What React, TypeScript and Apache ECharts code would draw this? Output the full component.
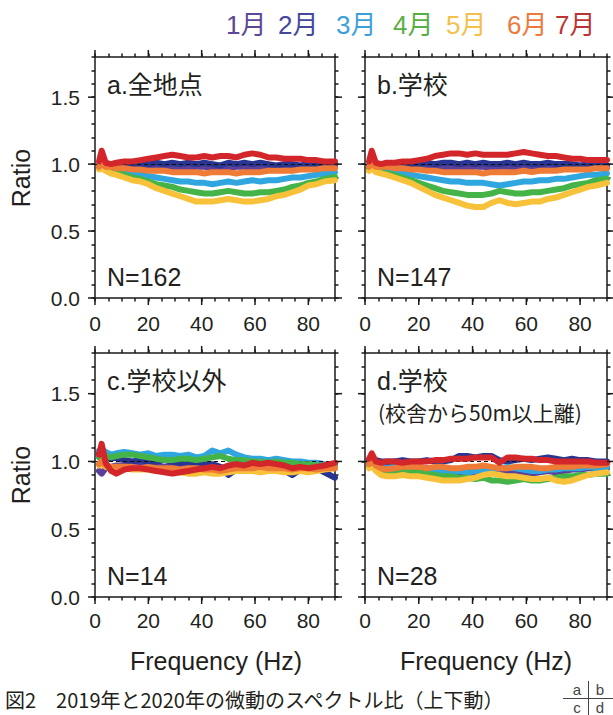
import React, { useEffect, useRef } from 'react';
import * as echarts from 'echarts';

// Frequency samples (Hz)
const FREQ = [1.5, 2.5, 4, 6, 8, 11, 14, 17, 20, 23, 26, 29, 32, 35, 38, 41, 44, 47, 50, 53, 56, 59, 62, 65, 68, 71, 74, 77, 80, 83, 86, 90];

const MONTHS = ['1月', '2月', '3月', '4月', '5月', '6月', '7月'];
const LINE_COLORS = ['#5b3f98', '#283593', '#2fa6df', '#45b448', '#f7c23a', '#ee7b36', '#d2262b'];
const LEGEND_COLORS = ['#5a4796', '#45479c', '#3d9fd8', '#58ae46', '#f3c04a', '#ec7a3d', '#bb3434'];

const X_MAJOR = [0, 20, 40, 60, 80];
const Y_MAJOR = [0, 0.5, 1.0, 1.5];

// a. 全地点
const A_JAN = [0.97, 1.00, 0.98, 0.98, 0.99, 0.98, 0.98, 0.98, 0.97, 0.98, 0.98, 0.97, 0.98, 0.97, 0.98, 0.98, 0.97, 0.98, 0.97, 0.98, 0.98, 0.97, 0.98, 0.98, 0.97, 0.98, 0.99, 0.98, 0.98, 0.99, 0.98, 0.98];
const A_FEB = [0.99, 1.03, 0.99, 1.00, 0.99, 1.00, 1.00, 0.99, 1.00, 1.01, 1.00, 1.01, 1.00, 1.01, 1.00, 1.01, 1.00, 0.99, 1.01, 1.00, 1.01, 1.00, 1.01, 1.00, 0.99, 1.00, 1.00, 0.99, 1.00, 1.00, 0.99, 1.00];
const A_MAR = [0.98, 0.99, 0.97, 0.96, 0.95, 0.94, 0.93, 0.92, 0.91, 0.90, 0.89, 0.88, 0.87, 0.87, 0.86, 0.86, 0.85, 0.86, 0.87, 0.86, 0.87, 0.88, 0.87, 0.88, 0.88, 0.89, 0.90, 0.90, 0.91, 0.92, 0.93, 0.94];
const A_APR = [0.97, 0.98, 0.96, 0.95, 0.94, 0.92, 0.90, 0.89, 0.87, 0.85, 0.84, 0.83, 0.81, 0.80, 0.79, 0.78, 0.78, 0.79, 0.80, 0.79, 0.78, 0.78, 0.79, 0.79, 0.80, 0.81, 0.83, 0.84, 0.86, 0.87, 0.89, 0.905];
const A_MAY = [0.96, 0.97, 0.95, 0.93, 0.92, 0.90, 0.88, 0.87, 0.85, 0.82, 0.80, 0.78, 0.76, 0.74, 0.72, 0.72, 0.72, 0.73, 0.74, 0.73, 0.72, 0.72, 0.73, 0.74, 0.76, 0.77, 0.79, 0.81, 0.84, 0.85, 0.87, 0.88];
const A_JUN = [0.98, 1.00, 0.98, 0.98, 0.97, 0.97, 0.96, 0.96, 0.95, 0.95, 0.95, 0.94, 0.94, 0.94, 0.94, 0.93, 0.94, 0.94, 0.94, 0.93, 0.94, 0.94, 0.94, 0.95, 0.95, 0.95, 0.95, 0.96, 0.96, 0.96, 0.97, 0.97];
const A_JUL = [1.02, 1.10, 1.01, 1.00, 1.01, 1.02, 1.02, 1.03, 1.04, 1.05, 1.06, 1.07, 1.06, 1.05, 1.05, 1.06, 1.05, 1.06, 1.06, 1.05, 1.07, 1.08, 1.07, 1.05, 1.05, 1.04, 1.04, 1.04, 1.03, 1.03, 1.02, 1.02];

// b. 学校
const B_JAN = [0.97, 1.00, 0.98, 0.98, 0.99, 0.98, 0.98, 0.98, 0.98, 0.97, 0.98, 0.98, 0.97, 0.98, 0.97, 0.98, 0.98, 0.97, 0.98, 0.98, 0.97, 0.98, 0.98, 0.97, 0.98, 0.98, 0.98, 0.98, 0.97, 0.98, 0.98, 0.97];
const B_FEB = [0.99, 1.03, 1.00, 1.00, 0.99, 1.00, 1.00, 1.00, 1.00, 1.01, 1.00, 1.01, 1.01, 1.00, 1.01, 1.00, 1.01, 1.00, 1.00, 1.01, 1.00, 1.01, 1.00, 1.00, 1.01, 1.00, 1.00, 1.00, 0.99, 1.00, 1.00, 0.99];
const B_MAR = [0.97, 0.99, 0.96, 0.96, 0.95, 0.94, 0.93, 0.92, 0.91, 0.90, 0.89, 0.88, 0.87, 0.87, 0.86, 0.86, 0.86, 0.85, 0.84, 0.85, 0.86, 0.87, 0.87, 0.88, 0.88, 0.89, 0.89, 0.90, 0.91, 0.92, 0.92, 0.93];
const B_APR = [0.96, 0.98, 0.95, 0.94, 0.93, 0.92, 0.90, 0.88, 0.86, 0.84, 0.82, 0.80, 0.79, 0.78, 0.77, 0.77, 0.77, 0.78, 0.80, 0.79, 0.78, 0.78, 0.79, 0.79, 0.80, 0.81, 0.82, 0.84, 0.85, 0.86, 0.88, 0.89];
const B_MAY = [0.95, 0.97, 0.94, 0.93, 0.92, 0.90, 0.88, 0.86, 0.83, 0.80, 0.77, 0.75, 0.73, 0.71, 0.69, 0.68, 0.68, 0.71, 0.73, 0.71, 0.70, 0.71, 0.72, 0.72, 0.74, 0.75, 0.77, 0.79, 0.81, 0.83, 0.84, 0.86];
const B_JUN = [0.98, 1.00, 0.98, 0.98, 0.98, 0.97, 0.97, 0.96, 0.96, 0.95, 0.95, 0.94, 0.94, 0.94, 0.94, 0.94, 0.93, 0.94, 0.94, 0.94, 0.94, 0.95, 0.94, 0.95, 0.95, 0.95, 0.96, 0.96, 0.96, 0.96, 0.97, 0.97];
const B_JUL = [1.02, 1.10, 1.01, 1.00, 1.01, 1.01, 1.02, 1.02, 1.03, 1.04, 1.06, 1.07, 1.08, 1.08, 1.07, 1.08, 1.07, 1.07, 1.07, 1.07, 1.08, 1.09, 1.08, 1.07, 1.06, 1.06, 1.05, 1.04, 1.04, 1.03, 1.03, 1.03];

// c. 学校以外
const C_JAN = [0.93, 0.91, 0.95, 0.96, 0.97, 0.97, 0.98, 0.97, 0.97, 0.97, 0.96, 0.97, 0.96, 0.96, 0.97, 0.96, 0.96, 0.95, 0.96, 0.97, 0.97, 0.97, 0.96, 0.97, 0.96, 0.97, 0.96, 0.97, 0.96, 0.97, 0.96, 0.96];
const C_FEB = [1.06, 1.05, 1.03, 1.02, 1.03, 1.01, 1.00, 1.01, 1.00, 1.00, 1.01, 1.00, 0.99, 1.00, 0.99, 0.98, 0.98, 0.96, 0.90, 0.94, 0.97, 0.98, 0.99, 0.98, 0.96, 0.93, 0.90, 0.94, 0.97, 0.95, 0.92, 0.88];
const C_MAR = [1.08, 1.09, 1.07, 1.05, 1.06, 1.07, 1.06, 1.05, 1.06, 1.04, 1.05, 1.05, 1.04, 1.05, 1.03, 1.04, 1.08, 1.06, 1.08, 1.05, 1.03, 1.02, 1.02, 1.01, 1.02, 1.01, 1.00, 1.00, 0.99, 0.99, 0.98, 0.97];
const C_APR = [1.03, 1.06, 1.04, 1.03, 1.04, 1.05, 1.05, 1.04, 1.03, 1.02, 1.01, 1.01, 1.02, 1.02, 1.01, 1.02, 1.03, 1.04, 1.02, 1.01, 1.01, 1.00, 1.00, 0.99, 1.00, 0.99, 0.99, 0.98, 0.98, 0.97, 0.97, 0.96];
const C_MAY = [0.97, 0.98, 0.96, 0.95, 0.95, 0.95, 0.94, 0.94, 0.94, 0.93, 0.93, 0.92, 0.92, 0.91, 0.91, 0.92, 0.91, 0.91, 0.92, 0.93, 0.93, 0.93, 0.92, 0.93, 0.93, 0.92, 0.92, 0.93, 0.92, 0.93, 0.94, 0.95];
const C_JUN = [0.98, 1.00, 0.97, 0.96, 0.96, 0.96, 0.96, 0.95, 0.96, 0.95, 0.95, 0.95, 0.94, 0.95, 0.95, 0.94, 0.94, 0.93, 0.94, 0.95, 0.95, 0.95, 0.96, 0.95, 0.95, 0.95, 0.94, 0.95, 0.95, 0.94, 0.95, 0.95];
const C_JUL = [1.05, 1.13, 0.99, 0.93, 0.91, 0.94, 0.95, 0.95, 0.94, 0.93, 0.92, 0.91, 0.92, 0.93, 0.94, 0.95, 0.96, 0.95, 0.97, 0.98, 0.97, 0.99, 0.98, 0.99, 0.98, 0.97, 0.95, 0.96, 0.95, 0.96, 0.97, 0.99];

// d. 学校（校舎から50m以上離）
const D_JAN = [0.99, 1.00, 0.99, 0.98, 0.99, 0.99, 0.98, 0.97, 0.96, 0.95, 0.94, 0.93, 0.92, 0.91, 0.90, 0.91, 0.93, 0.92, 0.93, 0.92, 0.91, 0.90, 0.91, 0.92, 0.93, 0.92, 0.93, 0.94, 0.94, 0.95, 0.95, 0.95];
const D_FEB = [1.01, 1.03, 1.01, 1.00, 1.00, 1.00, 1.01, 1.00, 1.00, 1.01, 1.00, 1.00, 1.01, 1.04, 1.04, 1.03, 1.04, 1.04, 1.01, 1.00, 1.01, 1.02, 1.01, 1.02, 1.03, 1.02, 1.01, 1.02, 1.01, 1.01, 1.00, 1.00];
const D_MAR = [0.97, 0.99, 0.96, 0.95, 0.95, 0.96, 0.95, 0.94, 0.94, 0.93, 0.93, 0.92, 0.92, 0.93, 0.92, 0.93, 0.94, 0.94, 0.95, 0.96, 0.95, 0.94, 0.93, 0.93, 0.94, 0.94, 0.95, 0.95, 0.95, 0.96, 0.95, 0.96];
const D_APR = [0.97, 0.98, 0.96, 0.93, 0.92, 0.92, 0.93, 0.93, 0.92, 0.91, 0.90, 0.89, 0.89, 0.88, 0.88, 0.87, 0.88, 0.86, 0.86, 0.85, 0.86, 0.87, 0.86, 0.86, 0.87, 0.88, 0.89, 0.89, 0.90, 0.90, 0.91, 0.91];
const D_MAY = [0.95, 0.97, 0.93, 0.90, 0.89, 0.89, 0.90, 0.89, 0.89, 0.88, 0.87, 0.86, 0.86, 0.86, 0.87, 0.88, 0.90, 0.91, 0.90, 0.89, 0.89, 0.88, 0.87, 0.87, 0.88, 0.86, 0.85, 0.86, 0.88, 0.90, 0.91, 0.92];
const D_JUN = [0.98, 1.00, 0.97, 0.95, 0.94, 0.95, 0.96, 0.96, 0.96, 0.95, 0.96, 0.96, 0.95, 0.95, 0.96, 0.96, 0.97, 0.96, 0.95, 0.95, 0.96, 0.96, 0.96, 0.95, 0.95, 0.96, 0.96, 0.96, 0.97, 0.97, 0.97, 0.98];
const D_JUL = [1.02, 1.06, 1.00, 0.99, 1.00, 1.00, 0.99, 1.00, 1.00, 1.00, 1.01, 1.01, 1.02, 1.02, 1.02, 1.03, 1.03, 1.03, 0.99, 1.03, 1.03, 1.02, 1.02, 1.01, 1.01, 1.00, 1.00, 1.00, 1.00, 1.00, 0.99, 0.99];

const PANEL_TITLES = ['a.全地点', 'b.学校', 'c.学校以外', 'd.学校'];
const PANEL_N = [162, 147, 14, 28];
const PANEL_DATA = [
  [A_JAN, A_FEB, A_MAR, A_APR, A_MAY, A_JUN, A_JUL],
  [B_JAN, B_FEB, B_MAR, B_APR, B_MAY, B_JUN, B_JUL],
  [C_JAN, C_FEB, C_MAR, C_APR, C_MAY, C_JUN, C_JUL],
  [D_JAN, D_FEB, D_MAR, D_APR, D_MAY, D_JUN, D_JUL],
];

const BOXES = [
  { left: 95, top: 57, width: 240, height: 241 },
  { left: 365, top: 57, width: 242, height: 241 },
  { left: 95, top: 353, width: 240, height: 244 },
  { left: 365, top: 353, width: 242, height: 244 },
];

const LEGEND_X = [226, 278, 336, 393, 446, 507, 555];

const LATIN = '"Liberation Sans", Arial, Helvetica, sans-serif';
const MIXED = '"Liberation Sans", Arial, "Noto Sans CJK JP", sans-serif';
const JP = '"Noto Sans CJK JP", sans-serif';
const INK = '#231f20';
const FRAME = { color: '#1a1a1a', width: 1.5 };

function buildOption() {
  const xAxis: any[] = [];
  const yAxis: any[] = [];
  const series: any[] = [];
  const grid = BOXES.map((b) => ({ ...b, show: false }));

  BOXES.forEach((_, p) => {
    const isBottom = p >= 2;
    const xBase = {
      gridIndex: p, type: 'value', min: 0, max: 90, interval: 5,
      axisLine: { show: true, onZero: false, lineStyle: FRAME },
      axisTick: { show: true, inside: false, length: 3.5, lineStyle: FRAME },
      splitLine: { show: false },
    };
    xAxis.push({
      ...xBase, position: 'bottom',
      axisLabel: {
        show: true, margin: isBottom ? 13 : 15, color: INK, fontSize: 21, fontFamily: LATIN,
        formatter: (v: number) => (X_MAJOR.indexOf(v) >= 0 ? String(v) : ''),
      },
    });
    xAxis.push({ ...xBase, position: 'top', axisLabel: { show: false } });
    const yBase = {
      gridIndex: p, type: 'value', min: 0, max: 1.8, interval: 0.1,
      axisLine: { show: true, onZero: false, lineStyle: FRAME },
      axisTick: { show: true, inside: false, length: 3.5, lineStyle: FRAME },
      splitLine: { show: false },
    };
    yAxis.push({
      ...yBase, position: 'left',
      axisLabel: {
        show: p % 2 === 0, margin: 15, color: INK, fontSize: 21, fontFamily: LATIN,
        formatter: (v: number) => {
          const hit = Y_MAJOR.find((m) => Math.abs(m - v) < 1e-6);
          return hit === undefined ? '' : hit.toFixed(1);
        },
      },
    });
    yAxis.push({ ...yBase, position: 'right', axisLabel: { show: false } });

    PANEL_DATA[p].forEach((vals, m) => {
      const s: any = {
        type: 'line', xAxisIndex: 2 * p, yAxisIndex: 2 * p, name: MONTHS[m],
        data: FREQ.map((f, i) => [f, vals[i]]),
        symbol: 'none', showSymbol: false, silent: true, clip: true,
        lineStyle: { color: LINE_COLORS[m], width: 6, cap: 'round', join: 'round' },
        z: 2 + m,
      };
      if (m === 6) {
        s.markLine = {
          silent: true, symbol: 'none', label: { show: false },
          lineStyle: { color: '#111', type: [4, 3], width: 1.2 },
          data: [{ yAxis: 1.0 }],
        };
      }
      series.push(s);
    });

    // longer major ticks on all four sides, placed through the axis scales
    series.push({
      type: 'custom', xAxisIndex: 2 * p, yAxisIndex: 2 * p, silent: true, z: 20,
      encode: { x: 0, y: 1 },
      data: [...X_MAJOR.map((v) => [v, 0, 0]), ...Y_MAJOR.map((v) => [0, v, 1])],
      renderItem: (params: any, api: any) => {
        const kind = api.value(2);
        const L = 7;
        const st = { stroke: FRAME.color, lineWidth: FRAME.width };
        if (kind === 0) {
          const v = api.value(0);
          const pb = api.coord([v, 0]);
          const pt = api.coord([v, 1.8]);
          return {
            type: 'group', children: [
              { type: 'line', shape: { x1: pb[0], y1: pb[1], x2: pb[0], y2: pb[1] + L }, style: st },
              { type: 'line', shape: { x1: pt[0], y1: pt[1], x2: pt[0], y2: pt[1] - L }, style: st },
            ],
          };
        }
        const v = api.value(1);
        const pl = api.coord([0, v]);
        const pr = api.coord([90, v]);
        return {
          type: 'group', children: [
            { type: 'line', shape: { x1: pl[0] - L, y1: pl[1], x2: pl[0], y2: pl[1] }, style: st },
            { type: 'line', shape: { x1: pr[0], y1: pr[1], x2: pr[0] + L, y2: pr[1] }, style: st },
          ],
        };
      },
    });
  });

  const graphic: any[] = [];
  MONTHS.forEach((m, i) => {
    graphic.push({
      type: 'text', x: LEGEND_X[i], y: 25,
      style: { text: m, fill: LEGEND_COLORS[i], fontSize: 26, fontFamily: MIXED, align: 'left', verticalAlign: 'middle' },
    });
  });
  BOXES.forEach((b, p) => {
    graphic.push({
      type: 'text', x: b.left + 12, y: b.top + 28,
      style: { text: PANEL_TITLES[p], fill: INK, fontSize: 25, fontFamily: MIXED, align: 'left', verticalAlign: 'middle' },
    });
    graphic.push({
      type: 'text', x: b.left + 12, y: b.top + b.height - 21,
      style: { text: 'N=' + PANEL_N[p], fill: INK, fontSize: 25, fontFamily: LATIN, align: 'left', verticalAlign: 'middle' },
    });
  });
  graphic.push({
    type: 'text', x: 378, y: 412,
    style: { text: '(校舎から50m以上離)', fill: INK, fontSize: 21, fontFamily: JP, align: 'left', verticalAlign: 'middle' },
  });
  [178, 475].forEach((cy) => {
    graphic.push({
      type: 'text', x: 21, y: cy, rotation: Math.PI / 2,
      style: { text: 'Ratio', fill: INK, fontSize: 25, fontFamily: LATIN, align: 'center', verticalAlign: 'middle' },
    });
  });
  [216, 486].forEach((cx) => {
    graphic.push({
      type: 'text', x: cx, y: 661,
      style: { text: 'Frequency (Hz)', fill: INK, fontSize: 25, fontFamily: LATIN, align: 'center', verticalAlign: 'middle' },
    });
  });
  graphic.push({
    type: 'text', x: 5, y: 699,
    style: { text: '図2　2019年と2020年の微動のスペクトル比（上下動）', fill: INK, fontSize: 20, fontFamily: JP, align: 'left', verticalAlign: 'middle' },
  });
  // panel key
  [['a', 577, 689], ['b', 600, 689], ['c', 577, 707], ['d', 600, 707]].forEach(([t, x, y]) => {
    graphic.push({
      type: 'text', x, y,
      style: { text: t, fill: '#444', fontSize: 15, fontFamily: LATIN, align: 'center', verticalAlign: 'middle' },
    });
  });
  graphic.push({ type: 'line', shape: { x1: 563, y1: 698.5, x2: 613, y2: 698.5 }, style: { stroke: '#444', lineWidth: 1 } });
  graphic.push({ type: 'line', shape: { x1: 588.5, y1: 681, x2: 588.5, y2: 715 }, style: { stroke: '#444', lineWidth: 1 } });

  return {
    animation: false,
    backgroundColor: '#ffffff',
    grid,
    xAxis,
    yAxis,
    series,
    graphic,
  };
}

export default function App() {
  const ref = useRef<HTMLDivElement>(null);
  useEffect(() => {
    if (!ref.current) return;
    const chart = echarts.init(ref.current, undefined, { renderer: 'svg' });
    chart.setOption(buildOption() as any);
    return () => chart.dispose();
  }, []);
  return <div ref={ref} style={{ position: 'absolute', left: 0, top: 0, width: 613, height: 715 }} />;
}
